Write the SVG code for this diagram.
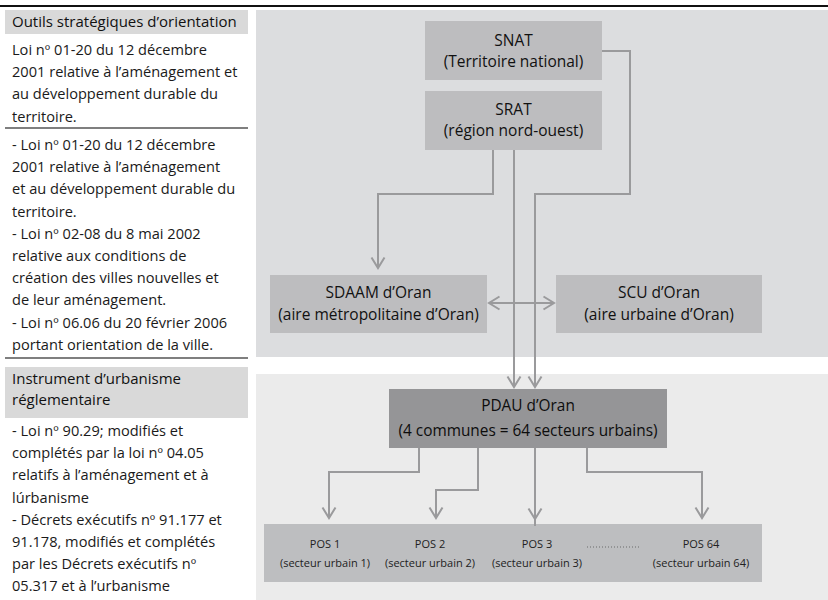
<svg xmlns="http://www.w3.org/2000/svg" width="828" height="600" viewBox="0 0 828 600">
<style>
.lt{font-family:"Open Sans","Liberation Sans",sans-serif;font-size:14.6px;fill:#1a1a1a}
.hd{font-family:"Open Sans","Liberation Sans",sans-serif;font-size:15px;fill:#111}
.nt{font-family:"Open Sans","Liberation Sans",sans-serif;font-size:15.5px;fill:#111;text-anchor:middle}
.pt{font-family:"Open Sans","Liberation Sans",sans-serif;font-size:15.4px;fill:#0d0d0d;text-anchor:middle}
.st{font-family:"Open Sans","Liberation Sans",sans-serif;font-size:11px;fill:#222;text-anchor:middle}
.box{fill:#bdbdbf}
.sep{stroke:#7f7f7f;stroke-width:2}
.con{fill:none;stroke:#9a9a9c;stroke-width:2}
</style>
<defs>
<marker id="ah" viewBox="-12 -7 14 14" markerWidth="14" markerHeight="14" refX="0" refY="0" orient="auto-start-reverse" markerUnits="userSpaceOnUse" overflow="visible">
<path d="M-10.5,-6.5 L0,0 L-10.5,6.5" fill="none" stroke="#9a9a9c" stroke-width="2"/>
</marker>
</defs>
<rect width="828" height="600" fill="#ffffff"/>
<line x1="0" y1="6" x2="828" y2="6" stroke="#111" stroke-width="2"/>
<!-- panels -->
<rect x="256" y="10" width="572" height="347" fill="#dcdddf"/>
<rect x="256" y="374" width="572" height="226" fill="#ebebeb"/>
<!-- left column -->
<g id="left-col">
<rect x="5" y="10" width="243" height="24" fill="#d9d9d9"/>
<text class="hd" x="12" y="27">Outils stratégiques d’orientation</text>
<text class="lt" x="12" y="55">Loi nº 01-20 du 12 décembre</text>
<text class="lt" x="12" y="77.2">2001 relative à l’aménagement et</text>
<text class="lt" x="12" y="99.4">au développement durable du</text>
<text class="lt" x="12" y="121.6">territoire.</text>
<line class="sep" x1="5" y1="128" x2="248" y2="128"/>
<text class="lt" x="12" y="150">- Loi nº 01-20 du 12 décembre</text>
<text class="lt" x="12" y="172.2">2001 relative à l’aménagement</text>
<text class="lt" x="12" y="194.4">et au développement durable du</text>
<text class="lt" x="12" y="216.6">territoire.</text>
<text class="lt" x="12" y="238.8">- Loi nº 02-08 du 8 mai 2002</text>
<text class="lt" x="12" y="261">relative aux conditions de</text>
<text class="lt" x="12" y="283.2">création des villes nouvelles et</text>
<text class="lt" x="12" y="305.4">de leur aménagement.</text>
<text class="lt" x="12" y="327.6">- Loi nº 06.06 du 20 février 2006</text>
<text class="lt" x="12" y="349.8">portant orientation de la ville.</text>
<line class="sep" x1="5" y1="358" x2="248" y2="358"/>
<rect x="5" y="367" width="243" height="51" fill="#d9d9d9"/>
<text class="hd" x="12" y="384">Instrument d’urbanisme</text>
<text class="hd" x="12" y="405">réglementaire</text>
<text class="lt" x="12" y="436">- Loi nº 90.29; modifiés et</text>
<text class="lt" x="12" y="458.2">complétés par la loi nº 04.05</text>
<text class="lt" x="12" y="480.4">relatifs à l’aménagement et à</text>
<text class="lt" x="12" y="502.6">lúrbanisme</text>
<text class="lt" x="12" y="524.8">- Décrets exécutifs nº 91.177 et</text>
<text class="lt" x="12" y="547">91.178, modifiés et complétés</text>
<text class="lt" x="12" y="569.2">par les Décrets exécutifs nº</text>
<text class="lt" x="12" y="591.4">05.317 et à l’urbanisme</text>
</g>
<!-- nodes -->
<g id="snat">
<rect class="box" x="425" y="21" width="177" height="59"/>
<text class="nt" x="513.5" y="46">SNAT</text>
<text class="nt" x="513.5" y="67">(Territoire national)</text>
</g>
<g id="srat">
<rect class="box" x="425" y="91" width="177" height="59"/>
<text class="nt" x="513.5" y="115">SRAT</text>
<text class="nt" x="513.5" y="136">(région nord-ouest)</text>
</g>
<g id="sdaam">
<rect class="box" x="270" y="275" width="217" height="58"/>
<text class="nt" x="378.5" y="298">SDAAM d’Oran</text>
<text class="nt" x="378.5" y="320">(aire métropolitaine d’Oran)</text>
</g>
<g id="scu">
<rect class="box" x="556" y="275" width="206" height="58"/>
<text class="nt" x="659" y="298">SCU d’Oran</text>
<text class="nt" x="659" y="320">(aire urbaine d’Oran)</text>
</g>
<g id="pdau">
<rect x="389" y="389" width="278" height="59" fill="#959597"/>
<text class="pt" x="528" y="411">PDAU d’Oran</text>
<text class="pt" x="528" y="436">(4 communes = 64 secteurs urbains)</text>
</g>
<g id="pos">
<rect x="264" y="524" width="498" height="58" fill="#bdbec0"/>
<g id="pos1"><text class="st" x="325" y="548">POS 1</text><text class="st" x="325" y="567">(secteur urbain 1)</text></g>
<g id="pos2"><text class="st" x="430" y="548">POS 2</text><text class="st" x="430" y="567">(secteur urbain 2)</text></g>
<g id="pos3"><text class="st" x="537" y="548">POS 3</text><text class="st" x="537" y="567">(secteur urbain 3)</text></g>
<line x1="587" y1="547" x2="640" y2="547" stroke="#6a6a6a" stroke-width="1.2" stroke-dasharray="1,2"/>
<g id="pos64"><text class="st" x="701" y="548">POS 64</text><text class="st" x="701" y="567">(secteur urbain 64)</text></g>
</g>
<!-- connectors -->
<g id="connectors">
<path class="con" d="M493,150 V194 H378 V268" marker-end="url(#ah)"/>
<path class="con" d="M514,150 V387" marker-end="url(#ah)"/>
<path class="con" d="M602,51 H630 V194 H535 V387" marker-end="url(#ah)"/>
<path class="con" d="M489,303 H554" marker-start="url(#ah)" marker-end="url(#ah)"/>
<path class="con" d="M419,448 V472 H329 V518" marker-end="url(#ah)"/>
<path class="con" d="M478,448 V490 H436 V518" marker-end="url(#ah)"/>
<path class="con" d="M535,448 V519" marker-end="url(#ah)"/>
<path class="con" d="M535,518 V526"/>
<path class="con" d="M587,448 V472 H702 V518" marker-end="url(#ah)"/>
</g>
</svg>
